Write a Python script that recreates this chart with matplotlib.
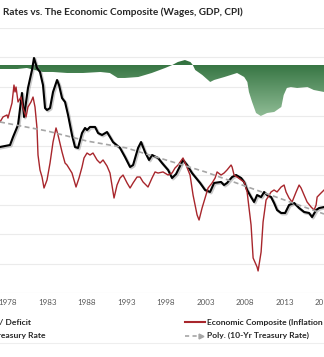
import numpy as np
import matplotlib
matplotlib.use("Agg")
import matplotlib.pyplot as plt
import matplotlib.patheffects as pe
from matplotlib.colors import LinearSegmentedColormap
from matplotlib.lines import Line2D

plt.rcParams['font.family'] = ['Lato', 'DejaVu Sans']

# 10-Yr Treasury Rate (%)
tsy_year = [1977.00, 1978.27, 1978.65, 1979.28, 1979.78, 1980.04, 1980.54, 1981.05, 1981.30, 1981.68,
            1982.06, 1982.44, 1982.70, 1982.95, 1983.33, 1983.71, 1984.22, 1984.47, 1984.85, 1985.23,
            1985.61, 1986.11, 1986.49, 1986.87, 1987.38, 1987.76, 1988.01, 1988.39, 1989.03, 1989.41,
            1989.91, 1990.54, 1990.92, 1991.30, 1992.19, 1992.82, 1993.46, 1993.84, 1994.47, 1994.85,
            1995.35, 1995.86, 1996.24, 1996.75, 1997.00, 1997.51, 1998.27, 1998.77, 1999.28, 1999.78,
            2000.16, 2000.67, 2001.30, 2001.81, 2002.32, 2002.95, 2003.58, 2004.09, 2004.97, 2005.35,
            2005.73, 2006.37, 2006.87, 2007.51, 2007.89, 2008.27, 2008.77, 2009.15, 2009.53, 2010.04,
            2010.42, 2010.80, 2011.30, 2011.68, 2012.06, 2012.57, 2013.08, 2013.58, 2014.22, 2014.85,
            2015.48, 2016.11, 2016.49, 2017.00, 2017.38, 2018.01]
tsy_rate = [7.82, 8.00, 8.73, 9.82, 12.73, 10.55, 13.18, 14.82, 15.91, 15.00,
            14.64, 13.45, 11.36, 11.18, 11.36, 12.82, 13.91, 13.45, 12.27, 11.91,
            10.73, 8.91, 7.82, 7.73, 9.09, 9.55, 9.36, 9.64, 9.64, 9.09,
            8.91, 9.18, 8.73, 8.27, 7.73, 6.91, 6.00, 6.18, 7.73, 8.27,
            7.36, 6.64, 7.09, 6.91, 6.82, 6.36, 5.73, 5.00, 5.36, 6.09,
            6.64, 6.18, 5.45, 5.00, 4.55, 3.91, 3.73, 4.55, 4.64, 4.36,
            4.55, 5.09, 5.27, 5.00, 4.64, 3.91, 3.27, 2.82, 3.45, 3.27,
            3.73, 3.45, 3.27, 2.73, 2.09, 1.82, 1.82, 2.55, 2.73, 2.27,
            1.91, 1.82, 1.45, 2.09, 2.27, 2.36]

# Economic Composite (Inflation + Wages + GDP)
eco_year = [1977.00, 1977.38, 1977.89, 1978.01, 1978.52, 1978.77, 1978.90, 1979.03, 1979.28, 1979.66,
            1979.91, 1980.29, 1980.54, 1980.92, 1981.18, 1981.43, 1981.68, 1981.81, 1982.06, 1982.32,
            1982.57, 1982.95, 1983.33, 1983.71, 1984.09, 1984.34, 1984.85, 1985.23, 1985.48, 1986.11,
            1986.62, 1987.00, 1987.38, 1987.63, 1988.01, 1988.39, 1988.77, 1989.28, 1989.66, 1990.04,
            1990.54, 1990.92, 1991.43, 1991.81, 1992.19, 1992.57, 1993.08, 1993.46, 1993.84, 1994.34,
            1994.72, 1995.10, 1995.73, 1996.24, 1996.62, 1997.00, 1997.63, 1998.27, 1998.77, 1999.15,
            1999.53, 2000.16, 2000.54, 2001.05, 2001.43, 2001.94, 2002.19, 2002.57, 2002.95, 2003.33,
            2003.84, 2004.22, 2004.47, 2004.97, 2005.35, 2005.73, 2006.24, 2006.37, 2006.62, 2007.00,
            2007.51, 2007.89, 2008.27, 2008.77, 2009.03, 2009.53, 2009.66, 2010.04, 2010.29, 2010.67,
            2010.92, 2011.30, 2011.68, 2012.06, 2012.57, 2012.95, 2013.20, 2013.58, 2013.96, 2014.47,
            2014.85, 2015.10, 2015.48, 2015.86, 2016.37, 2016.75, 2017.00, 2017.13, 2017.63, 2018.01]
eco_val = [10.09, 10.55, 10.73, 10.45, 11.82, 13.45, 12.82, 13.27, 11.91, 12.36,
           11.36, 10.55, 11.45, 11.91, 12.36, 11.45, 9.55, 7.09, 5.73, 5.09,
           4.09, 4.82, 6.36, 8.27, 9.55, 8.91, 7.36, 6.36, 6.18, 5.45,
           4.18, 5.00, 6.00, 6.82, 7.27, 7.09, 7.27, 6.64, 6.36, 6.64,
           6.09, 5.45, 3.18, 4.36, 5.00, 5.27, 4.55, 4.09, 4.55, 5.09,
           5.09, 4.64, 4.18, 5.00, 5.55, 5.45, 5.55, 5.27, 5.45, 5.91,
           6.18, 6.82, 6.18, 5.27, 3.45, 1.64, 1.18, 2.27, 3.18, 4.09,
           4.55, 5.00, 5.55, 5.27, 5.45, 5.73, 6.18, 6.00, 5.27, 5.09,
           4.82, 4.64, 3.73, 0.73, -2.27, -3.09, -3.45, -1.73, 1.00, 3.00,
           3.27, 3.73, 3.91, 3.73, 4.18, 4.36, 3.73, 3.18, 2.82, 3.73,
           4.36, 4.09, 3.45, 2.82, 2.36, 2.09, 2.55, 3.27, 3.64, 3.91]

# Poly. (10-Yr Treasury Rate) trend, read at 5-year steps
poly_year = [1977, 1983, 1988, 1993, 1998, 2003, 2008, 2013, 2018]
poly_val = [10.09, 9.27, 8.36, 7.73, 6.64, 5.55, 4.27, 3.00, 1.73]

# Surplus / Deficit ($ billions)
def_year = [1977.0, 1979.2, 1980.4, 1982.4, 1983.7, 1985.5, 1987.5, 1989.7, 1990.9, 1991.9,
            1992.8, 1994.5, 1996.2, 1997.9, 1998.8, 1999.5, 2000.4, 2001.1, 2001.4, 2001.7,
            2002.6, 2003.6, 2004.1, 2005.4, 2007.0, 2007.9, 2008.3, 2008.5, 2008.9, 2009.4,
            2010.0, 2010.8, 2011.7, 2012.6, 2012.9, 2013.3, 2013.8, 2014.6, 2015.9, 2016.7, 2018.0]
def_val = [-110, -110, -82, -192, -192, -220, -220, -192, -220, -357,
           -357, -330, -220, -82, 0, 82, 137, 82, 0, -137,
           -275, -467, -412, -330, -220, -330, -467, -742, -1017, -1320,
           -1402, -1320, -1292, -1155, -825, -632, -605, -632, -605, -687, -742]

years = list(range(1978, 2019, 5))

W, H = 324, 357
fig = plt.figure(figsize=(W / 100, H / 100), dpi=100)
ax = fig.add_axes([0, 64 / H, 1, 265 / H])
ax2 = ax.twinx()
ax.set_zorder(ax2.get_zorder() + 1)
ax.patch.set_visible(False)

# surplus / deficit area with gradient fill
fill = ax2.fill_between(def_year, 0, def_val, facecolor='none', edgecolor='none')
cmap = LinearSegmentedColormap.from_list('grn', ['#2f6f3c', '#8fbc95'])
grad = np.linspace(0, 1, 256).reshape(-1, 1)
im = ax2.imshow(grad, extent=[min(def_year), max(def_year), min(def_val), max(def_val)],
                aspect='auto', cmap=cmap, zorder=2)
im.set_clip_path(fill.get_paths()[0], transform=ax2.transData)

ax2.set_ylim(-6270, 1017.5)
ax2.set_yticks(np.linspace(-6270, 1017.5, 10))
ax2.grid(axis='y', color='#ebebeb', lw=0.8)
ax2.set_axisbelow(True)
ax2.tick_params(right=False, labelright=False)

ax.plot(tsy_year, tsy_rate, color='black', lw=1.5,
        path_effects=[pe.SimpleLineShadow(offset=(0.8, -0.8), shadow_color='#8a8a8a', alpha=0.45, linewidth=2.0),
                      pe.Normal()])
ax.plot(eco_year, eco_val, color='#a8262c', lw=1.0)
ax.plot(poly_year, poly_val, color='#a6a6a6', lw=1.2, ls=(0, (3, 2)))

ax.set_xlim(1977.0, 2018.0)
ax.set_ylim(-5.4545, 18.636)
ax.set_yticks([])
ax.set_xticks(years)
ax.set_xticklabels([str(y) for y in years], fontsize=5.8, color='#595959')
ax.tick_params(axis='x', length=0, pad=4)
for a in (ax, ax2):
    for s in a.spines.values():
        s.set_visible(False)

fig.text(3 / W, 1 - 12 / H, 'Rates vs. The Economic Composite (Wages, GDP, CPI)',
         fontsize=7.2, fontweight='bold', color='#262626', ha='left', va='center')

# legend rows
r1 = 1 - 322 / H
r2 = 1 - 335.5 / H
lg = dict(fontsize=6.1, fontweight='bold', color='#262626', va='center', ha='left')
fig.text(-31 / W, r1, 'Surplus / Deficit', **lg)
fig.text(-31 / W, r2, '10-Yr Treasury Rate', **lg)
fig.add_artist(Line2D([185 / W, 205 / W], [r1, r1], transform=fig.transFigure, color='#a8262c', lw=1.5))
fig.add_artist(Line2D([185 / W, 199 / W], [r2, r2], transform=fig.transFigure, color='#a6a6a6', lw=1.2,
                      ls=(0, (2.5, 2))))
fig.add_artist(Line2D([201 / W], [r2], transform=fig.transFigure, color='#a6a6a6', marker='>', ms=3.5, lw=0))
fig.text(207 / W, r1, 'Economic Composite (Inflation + Wages + GDP)', **lg)
fig.text(207 / W, r2, 'Poly. (10-Yr Treasury Rate)', **lg)
fig.add_artist(Line2D([0, 1], [1 - 343 / H] * 2, transform=fig.transFigure, color='#eeeeee', lw=0.8))

fig.savefig('out.png', dpi=100)
